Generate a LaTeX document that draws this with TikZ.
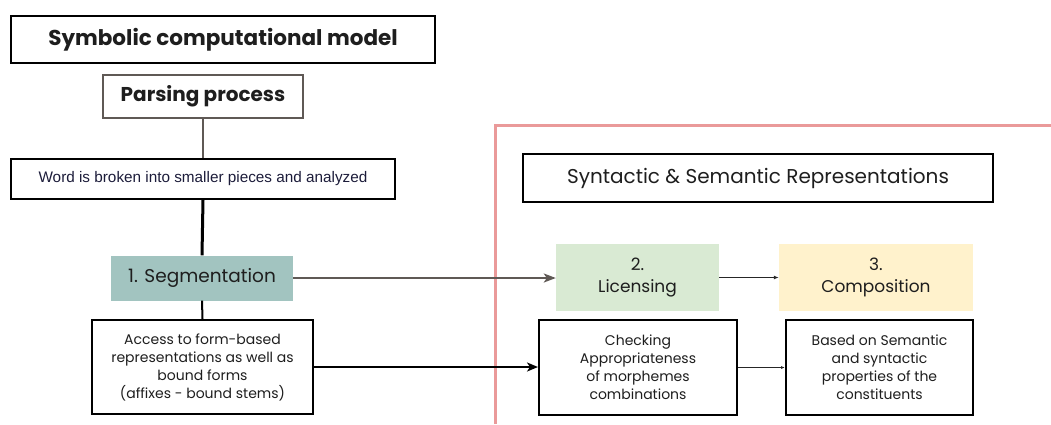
\documentclass[tikz,border=0pt]{standalone}
\usepackage{fontspec}
\setmainfont{Poppins}
\newfontfamily\arialf{Liberation Sans}
\usetikzlibrary{arrows.meta}
\definecolor{segfill}{HTML}{A2C4C0}
\definecolor{licfill}{HTML}{D9EAD3}
\definecolor{compfill}{HTML}{FFF2CC}
\definecolor{redline}{HTML}{EA9A9A}
\definecolor{grayline}{HTML}{5F5955}
\definecolor{txt}{HTML}{1E1E1E}
\definecolor{navy}{HTML}{1C1C3A}
\tikzset{
  x=1pt,y=-1pt,
  box/.style={draw=black,line width=2pt,align=center,inner sep=0pt,text=txt},
  filledbox/.style={draw=none,align=center,inner sep=0pt,text=txt},
  body/.style={font=\fontsize{14}{18}\selectfont},
}
\begin{document}
\begin{tikzpicture}
\useasboundingbox (0,0) rectangle (1051,424);
% red frame
\draw[redline,line width=3pt] (495,424) -- (495,125) -- (1051,125);
% nodes
\node[box,minimum width=424pt,minimum height=47pt,font=\fontsize{21.5}{24}\selectfont\bfseries] (title) at (223,39.5) {Symbolic computational model};
\node[box,draw=grayline,minimum width=200pt,minimum height=43pt,font=\fontsize{20}{22}\selectfont\bfseries] (parse) at (203,96.5) {Parsing process};
\node[box,minimum width=384pt,minimum height=40pt,text=navy,font=\arialf\fontsize{15.3}{17}\selectfont] (word) at (203,179) {Word is broken into smaller pieces and analyzed};
\node[filledbox,fill=segfill,minimum width=182pt,minimum height=45pt,font=\fontsize{18.5}{20}\selectfont] (seg) at (202,278) {1. Segmentation};
\node[box,minimum width=221pt,minimum height=94pt,body] (access) at (202.5,367) {Access to form-based\\representations as well as\\bound forms\\(affixes - bound stems)};
\node[box,minimum width=470pt,minimum height=48pt,font=\fontsize{20}{22}\selectfont] (syn) at (758,178) {Syntactic \& Semantic Representations};
\node[filledbox,fill=licfill,minimum width=163pt,minimum height=67pt,font=\fontsize{17}{22}\selectfont] (lic) at (637.5,277.5) {2.\\Licensing};
\node[filledbox,fill=compfill,minimum width=194pt,minimum height=67pt,font=\fontsize{17}{22}\selectfont] (comp) at (876,277.5) {3.\\Composition};
\node[box,minimum width=198pt,minimum height=95pt,body] (check) at (638,367.5) {Checking\\Appropriateness\\of morphemes\\combinations};
\node[box,minimum width=187pt,minimum height=95pt,body] (based) at (879.5,367.5) {Based on Semantic\\and syntactic\\properties of the\\constituents};
% connectors
\draw[grayline,line width=2pt] (parse.south) -- (word.north);
\draw[black,line width=3pt] (word.south) -- (seg.north);
\draw[black,line width=2pt] (seg.south) -- (access.north);
\draw[grayline,line width=2pt,-{Stealth[length=12pt,width=9pt,inset=3pt]}] (seg.east) -- (seg.east -| lic.west);
\draw[black,line width=2.5pt,-{Stealth[length=11pt,width=9pt,inset=3pt]}] (access.east) -- (access.east -| check.west);
\draw[black!85,line width=1pt,-{Latex[length=5pt,width=4pt]}] (lic.east) -- (lic.east -| comp.west);
\draw[black!85,line width=1pt,-{Latex[length=4pt,width=3pt]}] (check.east) -- (check.east -| based.west);
\end{tikzpicture}
\end{document}
